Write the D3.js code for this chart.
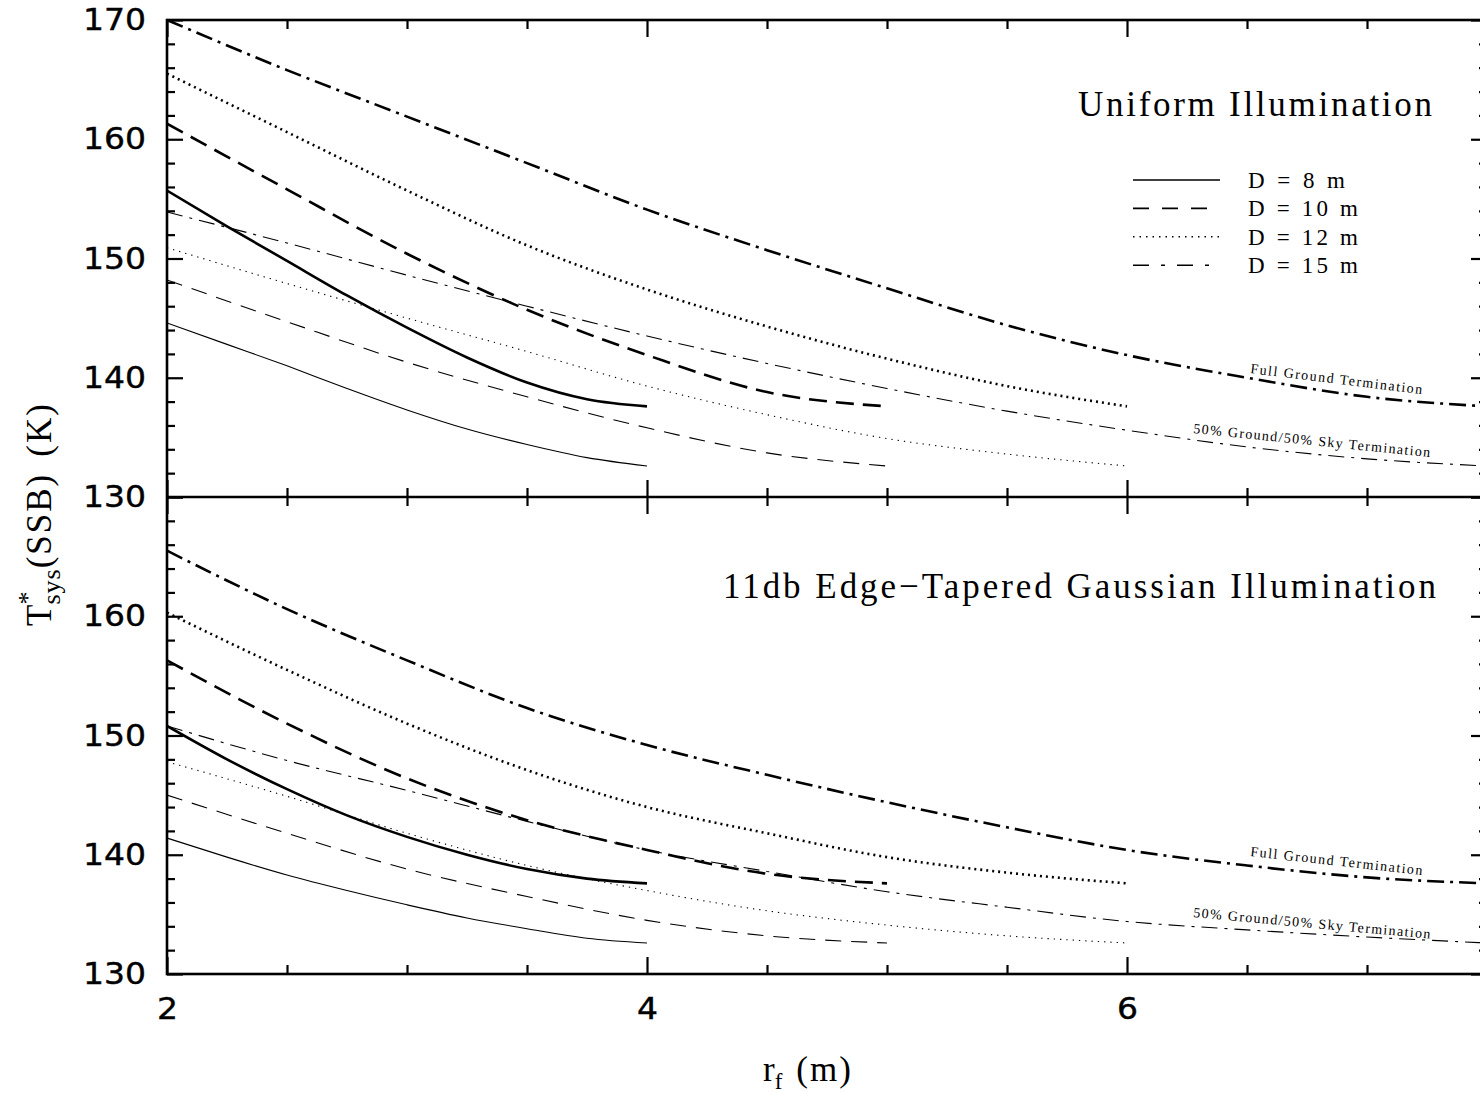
<!DOCTYPE html>
<html>
<head>
<meta charset="utf-8">
<script src="https://cdn.jsdelivr.net/npm/d3@7"></script>
<style>
body { margin: 0; background: #fff; }
svg { display: block; }
.serif { font-family: "Liberation Serif", "DejaVu Serif", serif; fill: #000; }
.num { font-family: "DejaVu Sans", sans-serif; fill: #000; stroke: #000; stroke-width: 0.4; }
</style>
</head>
<body>
<svg id="chart" width="1480" height="1093"></svg>
<script>
// Feed radius grids (m)
const rfQuarter = [2, 2.25, 2.5, 2.75, 3, 3.25, 3.5, 3.75, 4];
const rfHalf = [2, 2.5, 3, 3.5, 4, 4.5, 5, 5.5, 6, 6.5, 7, 7.5];

// Uniform illumination, full ground termination (K)
const uniFull8 = [155.7, 152.7, 149.8, 146.9, 144.2, 141.7, 139.6, 138.2, 137.6];
const uniFull10 = [161.3, 155.8, 150.4, 145.7, 141.9, 138.8, 137.6];
const uniFull12 = [165.5, 160.6, 155.7, 151.1, 147.4, 144.3, 141.6, 139.3, 137.6];
const uniFull15 = [170.0, 165.8, 161.9, 158.0, 154.1, 150.7, 147.5, 144.4, 141.9, 140.0, 138.4, 137.6];
// Uniform illumination, 50% ground / 50% sky
const uniHalf8 = [144.6, 142.8, 141.0, 139.1, 137.3, 135.7, 134.4, 133.3, 132.6];
const uniHalf10 = [148.2, 144.7, 141.3, 138.4, 135.8, 133.7, 132.6];
const uniHalf12 = [150.9, 147.9, 145.0, 142.2, 139.3, 136.9, 134.9, 133.6, 132.6];
const uniHalf15 = [153.9, 151.3, 148.6, 146.0, 143.5, 141.2, 139.1, 137.2, 135.6, 134.2, 133.2, 132.6];

// 11db edge-tapered gaussian, full ground termination
const gauFull8 = [150.8, 148.0, 145.5, 143.3, 141.5, 140.0, 138.8, 138.0, 137.6];
const gauFull10 = [156.3, 151.0, 146.4, 142.9, 140.4, 138.4, 137.6];
const gauFull12 = [160.3, 155.5, 151.0, 147.1, 144.0, 141.8, 139.8, 138.5, 137.6];
const gauFull15 = [165.5, 160.6, 156.3, 152.3, 149.2, 146.7, 144.4, 142.3, 140.4, 139.1, 138.1, 137.6];
// 11db edge-tapered gaussian, 50% ground / 50% sky
const gauHalf8 = [141.4, 139.8, 138.3, 137.0, 135.8, 134.7, 133.8, 133.0, 132.6];
const gauHalf10 = [145.0, 141.8, 138.8, 136.5, 134.5, 133.2, 132.6];
const gauHalf12 = [147.8, 144.9, 141.8, 139.1, 137.0, 135.3, 134.1, 133.2, 132.6];
const gauHalf15 = [150.8, 147.9, 145.4, 142.8, 140.4, 138.6, 136.9, 135.6, 134.4, 133.7, 133.1, 132.6];

const dishSizes = [8, 10, 12, 15];
const legendLabels = ["D = 8 m", "D = 10 m", "D = 12 m", "D = 15 m"];
const yMajor = [130, 140, 150, 160, 170];
const xMajor = [2, 4, 6];

// dash pattern for each dish size: [thick, thin, legend]
const dashes = {
	8: [null, null, null],
	10: ["18,9", "16,10", "16,13"],
	12: ["2,4", "1.3,5", "1.5,5"],
	15: ["17,6,3,6", "16,7,3,7", "16,12,4,12"]
};

const svg = d3.select("#chart");
const W = 1480;

// scales
const x = d3.scaleLinear().domain([2, 7.5]).range([167, 1487]);
const yTop = d3.scaleLinear().domain([130, 170]).range([497, 20]);
const yBot = d3.scaleLinear().domain([130, 170]).range([974, 497]);

const xMinor = d3.range(2, 7.51, 0.5).filter(v => xMajor.indexOf(v) < 0);
const yMinor = d3.range(130, 170.1, 2).filter(v => v % 10 !== 0);

// draw tick marks of one panel
function panelTicks(y, top, bottom) {
	let add = (axis, tx, ty) => {
		let g = svg.append("g").attr("transform", "translate(" + tx + "," + ty + ")")
			.call(axis.tickFormat("").tickSizeOuter(0));
		g.select(".domain").remove();
		g.selectAll("line").attr("stroke", "#000").attr("stroke-width", 2.2);
	};
	add(d3.axisRight(y).tickValues(yMajor).tickSize(16), 167, 0);
	add(d3.axisRight(y).tickValues(yMinor).tickSize(8), 167, 0);
	add(d3.axisLeft(y).tickValues(yMajor).tickSize(16), 1487, 0);
	add(d3.axisLeft(y).tickValues(yMinor).tickSize(8), 1487, 0);
	add(d3.axisBottom(x).tickValues(xMajor).tickSize(17), 0, top);
	add(d3.axisBottom(x).tickValues(xMinor).tickSize(9), 0, top);
	add(d3.axisTop(x).tickValues(xMajor).tickSize(17), 0, bottom);
	add(d3.axisTop(x).tickValues(xMinor).tickSize(9), 0, bottom);
}
panelTicks(yTop, 20, 497);
panelTicks(yBot, 497, 974);

// frame
let frame = svg.append("g").attr("stroke", "#000").attr("stroke-width", 2.6).attr("fill", "none");
frame.append("rect").attr("x", x(2)).attr("y", yTop(170))
	.attr("width", x(7.5) - x(2)).attr("height", yBot(130) - yTop(170));
frame.append("line").attr("x1", x(2)).attr("x2", x(7.5)).attr("y1", yTop(130)).attr("y2", yTop(130));

// tick labels
let labelAxis = (axis, tx, ty, vals) => {
	let g = svg.append("g").attr("transform", "translate(" + tx + "," + ty + ")")
		.call(axis.tickValues(vals).tickSize(0).tickSizeOuter(0).tickFormat(d3.format("d")));
	g.select(".domain").remove();
	g.selectAll("text").attr("class", "num").attr("font-size", 30)
		.attr("textLength", d => String(d).length * 21).attr("lengthAdjust", "spacingAndGlyphs");
};
labelAxis(d3.axisLeft(yTop).tickPadding(21), 167, 0, yMajor);
labelAxis(d3.axisLeft(yBot).tickPadding(21), 167, 0, [130, 140, 150, 160]);
labelAxis(d3.axisBottom(x).tickPadding(24), 0, 974, xMajor);

// curves
let series = [];
let addSeries = (y, D, full, vals) => {
	let rf = D === 8 ? rfQuarter : rfHalf;
	series.push({ y: y, D: D, full: full, pts: vals.map((v, i) => [rf[i], v]) });
};
addSeries(yTop, 8, true, uniFull8); addSeries(yTop, 10, true, uniFull10);
addSeries(yTop, 12, true, uniFull12); addSeries(yTop, 15, true, uniFull15);
addSeries(yTop, 8, false, uniHalf8); addSeries(yTop, 10, false, uniHalf10);
addSeries(yTop, 12, false, uniHalf12); addSeries(yTop, 15, false, uniHalf15);
addSeries(yBot, 8, true, gauFull8); addSeries(yBot, 10, true, gauFull10);
addSeries(yBot, 12, true, gauFull12); addSeries(yBot, 15, true, gauFull15);
addSeries(yBot, 8, false, gauHalf8); addSeries(yBot, 10, false, gauHalf10);
addSeries(yBot, 12, false, gauHalf12); addSeries(yBot, 15, false, gauHalf15);

svg.append("clipPath").attr("id", "clip").append("rect")
	.attr("x", x(2)).attr("y", 0).attr("width", W).attr("height", 1093);

svg.append("g").attr("clip-path", "url(#clip)")
	.selectAll("path").data(series).enter().append("path")
	.attr("fill", "none").attr("stroke", "#000")
	.attr("stroke-width", d => d.full ? 2.6 : 1.1)
	.attr("stroke-dasharray", d => dashes[d.D][d.full ? 0 : 1])
	.attr("d", d => d3.line().x(p => x(p[0])).y(p => d.y(p[1])).curve(d3.curveMonotoneX)(d.pts));

// legend
let leg = svg.append("g");
dishSizes.forEach((D, i) => {
	let ly = 180 + i * 28.4;
	leg.append("line").attr("x1", 1133).attr("x2", 1220).attr("y1", ly).attr("y2", ly)
		.attr("stroke", "#000").attr("stroke-width", 1.6).attr("stroke-dasharray", dashes[D][2]);
	leg.append("text").attr("class", "serif").attr("x", 1248).attr("y", ly + 8)
		.attr("font-size", 23).attr("textLength", D === 8 ? 97 : 110).attr("lengthAdjust", "spacing")
		.text(legendLabels[i]);
});

// panel titles
svg.append("text").attr("class", "serif").attr("x", 1078).attr("y", 116)
	.attr("font-size", 35).attr("textLength", 354).attr("lengthAdjust", "spacing")
	.text("Uniform Illumination");
svg.append("text").attr("class", "serif").attr("x", 723).attr("y", 598)
	.attr("font-size", 35).attr("textLength", 713).attr("lengthAdjust", "spacing")
	.text("11db Edge\u2212Tapered Gaussian Illumination");

// termination notes
let note = (tx, ty, ang, len, txt) => svg.append("text").attr("class", "serif")
	.attr("transform", "translate(" + tx + "," + ty + ") rotate(" + ang + ")")
	.attr("font-size", 14).attr("textLength", len).attr("lengthAdjust", "spacing").text(txt);
note(1250, 373, 7, 173, "Full Ground Termination");
note(1193, 433, 5.8, 238, "50% Ground/50% Sky Termination");
note(1250, 856, 6.3, 173, "Full Ground Termination");
note(1193, 917, 5.2, 238, "50% Ground/50% Sky Termination");

// axis titles
let xt = svg.append("text").attr("class", "serif").attr("x", 763).attr("y", 1081).attr("font-size", 35);
xt.append("tspan").text("r");
xt.append("tspan").attr("dy", 8).attr("font-size", 23).text("f");
xt.append("tspan").attr("dy", -8).attr("dx", 14).attr("letter-spacing", 2).text("(m)");

let yt = svg.append("text").attr("class", "serif").attr("font-size", 35)
	.attr("transform", "translate(51,626) rotate(-90)");
yt.append("tspan").text("T");
yt.append("tspan").attr("dy", -15).attr("font-size", 26).text("*");
yt.append("tspan").attr("dx", -13).attr("dy", 24).attr("font-size", 26).attr("letter-spacing", 1).text("sys");
yt.append("tspan").attr("dy", -9).attr("letter-spacing", 2).text("(SSB)");
yt.append("tspan").attr("dx", 16).attr("letter-spacing", 2).text("(K)");
</script>
</body>
</html>
